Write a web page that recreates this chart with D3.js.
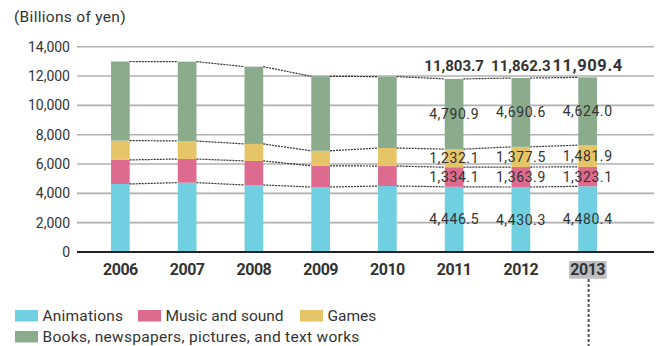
<!DOCTYPE html>
<html><head><meta charset="utf-8">
<script src="https://cdn.jsdelivr.net/npm/d3@7"></script>
<style>
body{margin:0;background:#fff}
svg text{font-family:Roboto,"DejaVu Sans",sans-serif;fill:#333}
</style></head>
<body><svg id="c" width="659" height="346"></svg>
<script>
const years = ["2006","2007","2008","2009","2010","2011","2012","2013"];
const animations = [4640,4730,4570,4430,4500,4446.5,4430.3,4480.4];
const music = [1640,1610,1640,1450,1360,1334.1,1363.9,1323.1];
const games = [1320,1230,1160,1020,1230,1232.1,1377.5,1481.9];
const books = [5390,5410,5270,5080,4870,4790.9,4690.6,4624.0];
const totals = [null,null,null,null,null,11803.7,11862.3,11909.4];
const labeledYears = ["2011","2012","2013"];
const highlightYear = "2013";
const yTicks = [0,2000,4000,6000,8000,10000,12000,14000];
const seriesNames = ["Animations","Music and sound","Games","Books, newspapers, pictures, and text works"];
const colors = ["#70cfe0","#dc6b8f","#e6c568","#8aab8c"];

const svg = d3.select("#c");
const x = d3.scaleBand().domain(years).range([87,621]).paddingInner(0.72).paddingOuter(0.36);
const y = d3.scaleLinear().domain([0,14000]).range([252,46.7]);
const bw = x.bandwidth();
const fmt = d3.format(",.1f");

const rows = years.map((yr,i)=>({year:yr,Animations:animations[i],"Music and sound":music[i],Games:games[i],"Books, newspapers, pictures, and text works":books[i]}));
const stack = d3.stack().keys(seriesNames)(rows);

// title
svg.append("text").attr("x",14).attr("y",22).attr("font-size",15.5).attr("letter-spacing",0.3).text("(Billions of yen)");

// gridlines
svg.append("g").selectAll("line").data(yTicks.filter(t=>t>0)).join("line")
  .attr("x1",77).attr("x2",654).attr("y1",d=>y(d)).attr("y2",d=>y(d))
  .attr("stroke","#b0b0b0").attr("stroke-width",1.6);

// y axis labels
const yAxis = d3.axisLeft(y).tickValues(yTicks).tickFormat(d3.format(",")).tickSize(0).tickPadding(0);
const ya = svg.append("g").attr("transform","translate(70,0)").call(yAxis);
ya.select(".domain").remove();
ya.selectAll("text").attr("font-size",14).attr("fill","#333").attr("font-family","Roboto");

// bars
const g = svg.append("g");
stack.forEach((s,si)=>{
  g.selectAll(null).data(s).join("rect")
    .attr("x",d=>x(d.data.year)).attr("width",bw)
    .attr("y",d=>y(d[1])).attr("height",d=>y(d[0])-y(d[1]))
    .attr("fill",colors[si]);
});

// dotted connectors
const dots = svg.append("g");
stack.forEach(s=>{
  for(let i=0;i<s.length-1;i++){
    dots.append("line")
      .attr("x1",x(years[i])+bw).attr("y1",y(s[i][1]))
      .attr("x2",x(years[i+1])).attr("y2",y(s[i+1][1]))
      .attr("stroke","#333").attr("stroke-width",1.2).attr("stroke-dasharray","2,1");
  }
});

// baseline
svg.append("line").attr("x1",77).attr("x2",654).attr("y1",y(0)).attr("y2",y(0))
  .attr("stroke","#222").attr("stroke-width",2.2);

// segment labels
stack.forEach(s=>{
  svg.append("g").selectAll("text").data(s.filter(d=>labeledYears.includes(d.data.year))).join("text")
    .attr("x",d=>x(d.data.year)+bw/2).attr("y",d=>(y(d[0])+y(d[1]))/2+5)
    .attr("text-anchor","middle").attr("font-size",14).attr("letter-spacing",0.6)
    .text(d=>fmt(d[1]-d[0]));
});

// totals
svg.append("g").selectAll("text").data(years.map((yr,i)=>({yr,v:totals[i]})).filter(d=>d.v!==null)).join("text")
  .attr("x",d=>x(d.yr)+bw/2).attr("y",71)
  .attr("text-anchor","middle").attr("font-weight","bold")
  .attr("font-size",d=>d.yr===highlightYear?16.5:15)
  .attr("letter-spacing",d=>d.yr===highlightYear?0.6:0)
  .text(d=>fmt(d.v));

// x highlight
const hx = x(highlightYear)+bw/2;
svg.append("rect").attr("x",hx-18.5).attr("y",261).attr("width",37.5).attr("height",17.7).attr("fill","#bebec0");
svg.append("line").attr("x1",hx+1).attr("x2",hx+1).attr("y1",279).attr("y2",346)
  .attr("stroke","#555").attr("stroke-width",2).attr("stroke-dasharray","3,2");

// x axis labels
const xAxis = d3.axisBottom(x).tickSize(0).tickPadding(0);
const xa = svg.append("g").attr("transform","translate(0,264)").call(xAxis);
xa.select(".domain").remove();
xa.selectAll("text").attr("font-size",16).attr("font-weight","bold").attr("letter-spacing",-0.5)
  .attr("fill","#2a2a2a").attr("font-family","Roboto").attr("dy","0.71em");

// legend
const legendPos = [[15,310],[138,310],[300,310],[15,331]];
const legendSpacing = [0.2,0,0,0.3];
const lg = svg.append("g");
seriesNames.forEach((n,i)=>{
  const [lx,ly]=legendPos[i];
  lg.append("rect").attr("x",lx).attr("y",ly).attr("width",23).attr("height",11.5).attr("fill",colors[i]);
  lg.append("text").attr("x",lx+27.5).attr("y",ly+11).attr("font-size",15.5)
    .attr("letter-spacing",legendSpacing[i]).text(n);
});
</script></body></html>
